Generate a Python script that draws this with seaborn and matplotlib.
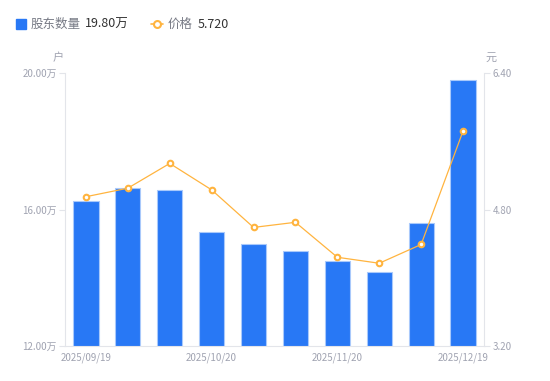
import numpy as np
import pandas as pd
import seaborn as sns
import matplotlib.pyplot as plt
from matplotlib.lines import Line2D

# data
dates = ["2025/09/19", "2025/09/30", "2025/10/10", "2025/10/20", "2025/10/31",
         "2025/11/10", "2025/11/20", "2025/11/30", "2025/12/10", "2025/12/19"]
holders = [16.24, 16.63, 16.58, 15.35, 14.98, 14.78, 14.48, 14.17, 15.60, 19.80]  # 万户
price = [4.95, 5.05, 5.34, 5.03, 4.59, 4.65, 4.24, 4.17, 4.39, 5.72]  # 元
shown_ticks = [0, 3, 6, 9]

left_ticks = [12, 16, 20]
right_ticks = [3.2, 4.8, 6.4]

df = pd.DataFrame({"date": dates, "holders": holders, "price": price})

sns.set_theme(style="white")
plt.rcParams["font.family"] = ["Noto Sans CJK SC", "DejaVu Sans"]

blue = "#2878F5"
orange = "#FFB43F"
grey_txt = "#A0A3B1"
axis_col = "#E3E5EA"

fig = plt.figure(figsize=(5.5, 3.81), dpi=100)
ax = fig.add_axes([65 / 550, 35 / 381, 419 / 550, 273 / 381])

sns.barplot(data=df, x="date", y="holders", color=blue, saturation=1, width=0.6,
            edgecolor="#A9C9FB", linewidth=0.8, ax=ax)

ax2 = ax.twinx()
sns.pointplot(data=df, x="date", y="price", color=orange, markers="o",
              linewidth=0.9, markersize=4, markerfacecolor="white",
              markeredgecolor=orange, markeredgewidth=1.5, ax=ax2)

ax.set_ylim(12, 20)
ax.set_yticks(left_ticks)
ax.set_yticklabels([f"{v:.2f}万" for v in left_ticks])
ax2.set_ylim(3.2, 6.4)
ax2.set_yticks(right_ticks)
ax2.set_yticklabels([f"{v:.2f}" for v in right_ticks])

for a in (ax, ax2):
    a.set_xlim(-0.5, len(dates) - 0.5)
    a.set_xticks(shown_ticks)
    a.set_xticklabels([dates[i] for i in shown_ticks])
    a.set_xlabel("")
    a.set_ylabel("")
    a.grid(False)
    for s in a.spines.values():
        s.set_visible(False)
        s.set_linewidth(0.8)
        s.set_color(axis_col)
    a.tick_params(axis="x", length=0, pad=5, labelsize=7, labelcolor=grey_txt)
    a.tick_params(axis="y", length=4, width=0.8, color=axis_col, pad=2,
                  labelsize=7, labelcolor=grey_txt)

ax.spines["left"].set_visible(True)
ax.spines["bottom"].set_visible(True)
ax2.spines["right"].set_visible(True)

# axis units
ax.annotate("户", xy=(0, 1), xycoords="axes fraction", xytext=(-5, 11),
            textcoords="offset points", ha="center", va="center",
            fontsize=8, color=grey_txt)
ax2.annotate("元", xy=(1, 1), xycoords="axes fraction", xytext=(5, 11),
             textcoords="offset points", ha="center", va="center",
             fontsize=8, color=grey_txt)

# legend row at the top
ly = 1 - 24 / 381
fig.add_artist(Line2D([20.5 / 550], [ly], marker="s", markersize=6.5,
                      color=blue, linestyle="none", transform=fig.transFigure))
fig.text(31 / 550, ly, "股东数量", fontsize=9, color="#777a85", va="center")
fig.text(85 / 550, ly, "19.80万", fontsize=9, color="#333333", va="center")
fig.add_artist(Line2D([151 / 550, 163 / 550], [ly, ly], color=orange,
                      linewidth=1.2, transform=fig.transFigure))
fig.add_artist(Line2D([157 / 550], [ly], marker="o", markersize=5,
                      markerfacecolor="white", markeredgecolor=orange,
                      markeredgewidth=1.5, linestyle="none", transform=fig.transFigure))
fig.text(168 / 550, ly, "价格", fontsize=9, color="#777a85", va="center")
fig.text(198 / 550, ly, "5.720", fontsize=9, color="#333333", va="center")

fig.savefig("out.png", dpi=100)
